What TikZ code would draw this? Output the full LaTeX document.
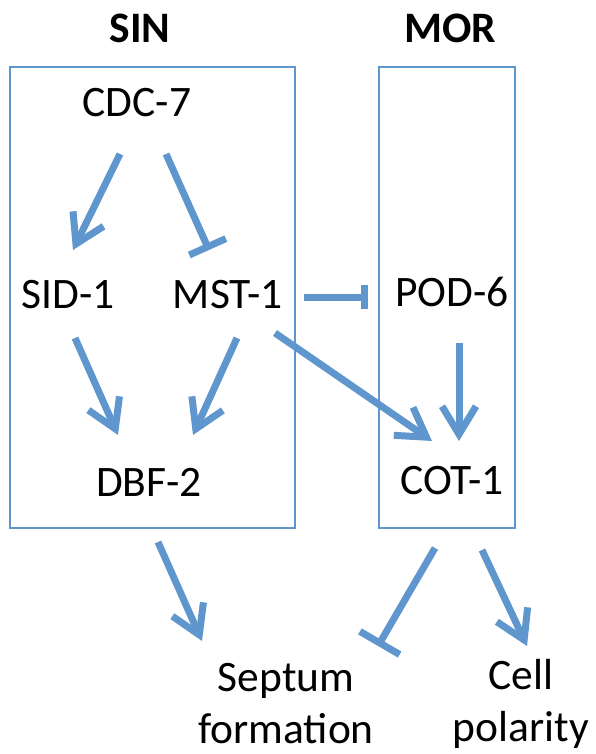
\documentclass[tikz,border=0pt]{standalone}
\usepackage{fontspec}
\setmainfont{Carlito}
\usepackage{tikz}
\usetikzlibrary{arrows.meta}
\usetikzlibrary{positioning}
\definecolor{pathblue}{RGB}{95,150,205}
\tikzstyle{gene}=[inner sep=0pt, font=\fontsize{43.5}{52}\selectfont]
\tikzstyle{title}=[inner sep=0pt, font=\fontsize{43.5}{52}\selectfont\bfseries]
\tikzstyle{module}=[draw=pathblue, line width=2pt, inner sep=0pt]
\tikzstyle{activate}=[-{Straight Barb[length=28pt, width=34pt, sharp]}, line width=7pt, pathblue]
\tikzstyle{inhibit}=[line width=7pt, pathblue]
\tikzset{every picture/.style={
    x=1pt, y=-1pt
  }
}

\begin{document}
\begin{tikzpicture}
        \useasboundingbox (0,0) rectangle (596,754);
        \node[title] at (140,28) (sin) {SIN};
        \node[title] at (450,28) (mor) {MOR};
        \node[module, minimum width=285pt, minimum height=460pt] at (152.5,297.5) (sinbox) {};
        \node[module, minimum width=136pt, minimum height=460pt] at (447,297.5) (morbox) {};
        \node[gene] at (137,103) (cdc) {CDC-7};
        \node[gene] at (68,295) (sid) {SID-1};
        \node[gene] at (228,295) (mst) {MST-1};
        \node[gene] at (149,482) (dbf) {DBF-2};
        \node[gene] at (452,292) (pod) {POD-6};
        \node[gene] at (452,481) (cot) {COT-1};
        \node[gene, align=center] at (286,704) (septum) {Septum\\formation};
        \node[gene, align=center] at (521,704) (polarity) {Cell\\polarity};
        \draw[activate] ([shift={(-17,51)}]cdc.center) -- ([shift={(5,-45)}]sid.center);
        \draw[inhibit, -{Bar[width=40pt]}] ([shift={(29,51)}]cdc.center) -- ([shift={(-19,-45)}]mst.center);
        \draw[activate] ([shift={(7,43)}]sid.center) -- ([shift={(-31,-47)}]dbf.center);
        \draw[activate] ([shift={(9,43)}]mst.center) -- ([shift={(44,-47)}]dbf.center);
        \draw[inhibit, -{Bar[width=24pt]}] ([shift={(76,2)}]mst.center) -- ([shift={(-84,5)}]pod.center);
        \draw[activate] ([shift={(47,38)}]mst.center) -- ([shift={(-20,-40)}]cot.center);
        \draw[activate] ([shift={(7,51)}]pod.center) -- ([shift={(7,-40)}]cot.center);
        \draw[activate] ([shift={(9,60)}]dbf.center) -- ([shift={(-84,-63)}]septum.center);
        \draw[inhibit, -{Bar[width=46pt]}] ([shift={(-17,67)}]cot.center) -- ([shift={(92,-58)}]septum.center);
        \draw[activate] ([shift={(30,69)}]cot.center) -- ([shift={(6,-58)}]polarity.center);
      \end{tikzpicture}
\end{document}
